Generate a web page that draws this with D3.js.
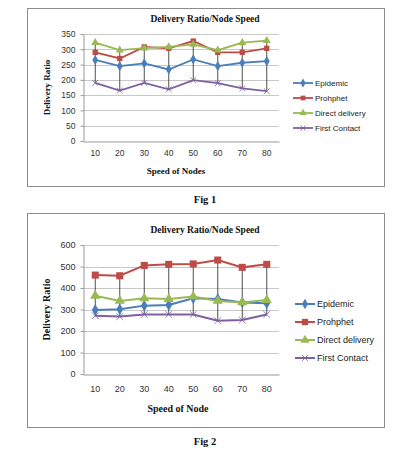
<!DOCTYPE html>
<html><head><meta charset="utf-8">
<script src="https://cdn.jsdelivr.net/npm/d3@7"></script>
<style>body{margin:0;background:#fff}svg{display:block}</style>
</head><body>
<script>
const categories = ["10","20","30","40","50","60","70","80"];
const seriesNames = ["Epidemic","Prohphet","Direct delivery","First Contact"];
const fig1Epidemic = [265,245,254,234,267,245,256,261];
const fig1Prohphet = [290,270,308,303,327,290,290,303];
const fig1Direct   = [322,297,304,308,316,297,322,328];
const fig1First    = [190,165,190,169,199,189,172,163];
const fig1Ticks = [0,50,100,150,200,250,300,350];
const fig2Epidemic = [298,301,318,321,352,349,333,329];
const fig2Prohphet = [460,457,505,510,512,530,496,510];
const fig2Direct   = [364,340,352,349,360,340,333,344];
const fig2First    = [271,267,277,277,277,248,251,277];
const fig2Ticks = [0,100,200,300,400,500,600];

const colors = ["#4a7ebb","#be4b48","#98b954","#7d60a0"];
const shapes = [d3.symbolDiamond, d3.symbolSquare, d3.symbolTriangle, d3.symbolX];

const svg = d3.select("body").append("svg").attr("width",400).attr("height",455);

function drawChart(o){
  const g = svg.append("g");
  g.append("rect").attr("x",o.box[0]+0.5).attr("y",o.box[1]+0.5)
    .attr("width",o.box[2]-o.box[0]).attr("height",o.box[3]-o.box[1])
    .attr("fill","#fff").attr("stroke","#8c8c8c").attr("stroke-width",1);
  g.append("text").attr("x",205).attr("y",o.titleY).attr("text-anchor","middle")
    .attr("font-family","Liberation Serif").attr("font-weight","bold").attr("font-size",9.5)
    .attr("fill","#111").text("Delivery Ratio/Node Speed");
  const x = d3.scaleBand().domain(categories).range([o.left,o.right]);
  const y = d3.scaleLinear().domain([0,o.ticks[o.ticks.length-1]]).range([o.bottom,o.top]);
  // grid
  g.append("g").selectAll("line").data(o.ticks.slice(1)).join("line")
    .attr("x1",o.left).attr("x2",o.right)
    .attr("y1",d=>Math.round(y(d))+0.5).attr("y2",d=>Math.round(y(d))+0.5)
    .attr("stroke","#c8c8c8").attr("stroke-width",1);
  // y axis
  const ya = g.append("g").attr("transform",`translate(${o.left+0.5},0)`)
    .call(d3.axisLeft(y).tickValues(o.ticks).tickSize(3).tickSizeOuter(0));
  ya.select(".domain").attr("stroke","#999");
  ya.selectAll(".tick line").attr("stroke","#999");
  ya.selectAll("text").attr("font-family","Liberation Sans").attr("font-size",o.fs).attr("fill","#333").attr("dx",-2);
  // x axis
  const xa = g.append("g").attr("transform",`translate(0,${Math.round(o.bottom)+0.5})`)
    .call(d3.axisBottom(x).tickSize(0).tickSizeOuter(0));
  xa.select(".domain").attr("stroke","#999");
  xa.selectAll("text").attr("font-family","Liberation Sans").attr("font-size",o.fs).attr("fill","#333").attr("dy",o.xdy);
  const cx = c => x(c)+x.bandwidth()/2;
  const data = o.series;
  // high-low lines
  g.append("g").selectAll("line").data(categories).join("line")
    .attr("x1",c=>cx(c)).attr("x2",c=>cx(c))
    .attr("y1",(c,i)=>y(d3.max(data,s=>s[i]))).attr("y2",(c,i)=>y(d3.min(data,s=>s[i])))
    .attr("stroke","#222").attr("stroke-width",0.8);
  const line = d3.line().x((d,i)=>cx(categories[i])).y(d=>y(d));
  data.forEach((s,k)=>{
    g.append("path").datum(s).attr("d",line).attr("fill","none")
      .attr("stroke",colors[k]).attr("stroke-width",o.lw);
    g.append("g").selectAll("path").data(s).join("path")
      .attr("transform",(d,i)=>`translate(${cx(categories[i])},${y(d)})`)
      .attr("d",d3.symbol().type(shapes[k]).size(o.msize[k]))
      .attr("fill",k===3?"none":colors[k])
      .attr("stroke",k===3?colors[k]:"none").attr("stroke-width",k===3?0.8:0);
  });
  // axis titles
  g.append("text").attr("x",o.xTitleX).attr("y",o.xTitleY).attr("text-anchor","middle")
    .attr("font-family","Liberation Serif").attr("font-weight","bold").attr("font-size",o.tfs)
    .attr("fill","#111").text(o.xTitle);
  g.append("text").attr("transform",`translate(${o.yTitleX},${(o.top+o.bottom)/2}) rotate(-90)`)
    .attr("text-anchor","middle")
    .attr("font-family","Liberation Serif").attr("font-weight","bold").attr("font-size",o.tfs)
    .attr("fill","#111").text("Delivery Ratio");
  // legend
  const lg = g.append("g");
  seriesNames.forEach((n,k)=>{
    const yy = o.legY + k*o.legStep;
    lg.append("line").attr("x1",o.legX).attr("x2",o.legX+20).attr("y1",yy).attr("y2",yy)
      .attr("stroke",colors[k]).attr("stroke-width",o.lw);
    lg.append("path").attr("transform",`translate(${o.legX+10},${yy})`)
      .attr("d",d3.symbol().type(shapes[k]).size(o.msize[k]*0.8))
      .attr("fill",k===3?"none":colors[k]).attr("stroke",k===3?colors[k]:"none").attr("stroke-width",0.8);
    lg.append("text").attr("x",o.legX+22).attr("y",yy).attr("dy","0.35em")
      .attr("font-family","Liberation Sans").attr("font-size",o.lfs).attr("fill","#222").text(n);
  });
  svg.append("text").attr("x",205).attr("y",o.figY).attr("text-anchor","middle")
    .attr("font-family","Liberation Serif").attr("font-weight","bold").attr("font-size",10.5)
    .attr("fill","#111").text(o.fig);
}

drawChart({box:[27,8,384,186], titleY:22, left:83, right:279, top:34, bottom:141,
  ticks:fig1Ticks, fs:8.5, xdy:"1.3em", lw:1.8, msize:[30,28,28,24],
  series:[fig1Epidemic,fig1Prohphet,fig1Direct,fig1First],
  xTitle:"Speed of Nodes", xTitleX:176, xTitleY:174, tfs:9, yTitleX:50,
  legX:293, legY:83, legStep:15, lfs:8, figY:203, fig:"Fig 1"});

drawChart({box:[27,213,384,427], titleY:233, left:83, right:279, top:245, bottom:374,
  ticks:fig2Ticks, fs:9, xdy:"1.6em", lw:2, msize:[40,50,45,32],
  series:[fig2Epidemic,fig2Prohphet,fig2Direct,fig2First],
  xTitle:"Speed of Node", xTitleX:178, xTitleY:412, tfs:10, yTitleX:50,
  legX:295, legY:304, legStep:18, lfs:9, figY:445, fig:"Fig 2"});
</script>
</body></html>
